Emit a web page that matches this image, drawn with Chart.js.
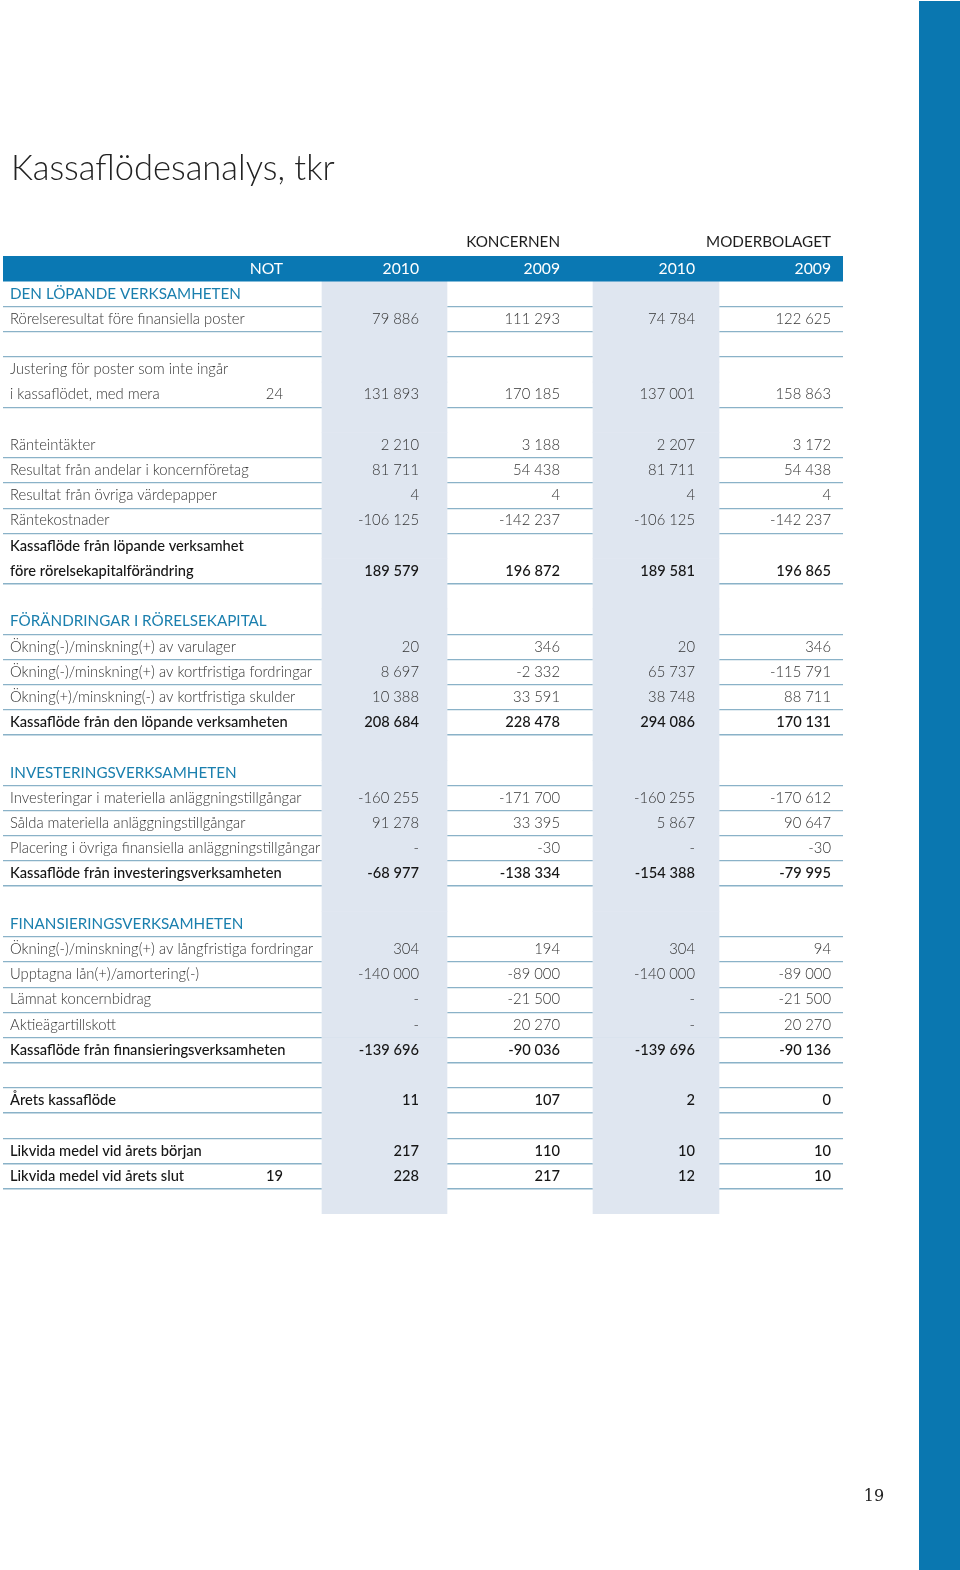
<!DOCTYPE html>
<html lang="sv">
<head>
<meta charset="utf-8">
<title>Kassaflödesanalys, tkr</title>
<script src="https://cdn.jsdelivr.net/npm/chart.js@4/dist/chart.umd.min.js"></script>
<style>
  html, body { margin: 0; padding: 0; background: #fff; }
  body { width: 960px; height: 1570px; position: relative; overflow: hidden; }
  #chartKassa { position: absolute; left: 0; top: 0; }
  #strip { position: absolute; left: 919px; top: 1px; width: 41px; bottom: 0; background: #0a77b0; }
</style>
</head>
<body>
<canvas id="chartKassa" width="960" height="1570"></canvas>
<div id="strip"></div>
<script>
// Rader i tabellen (rad 0 = rubrikraden, sista raden = tom rad under tabellen)
const rowLabels = [
  '',
  'DEN LÖPANDE VERKSAMHETEN',
  'Rörelseresultat före finansiella poster',
  '',
  'Justering för poster som inte ingår',
  'i kassaflödet, med mera',
  '',
  'Ränteintäkter',
  'Resultat från andelar i koncernföretag',
  'Resultat från övriga värdepapper',
  'Räntekostnader',
  'Kassaflöde från löpande verksamhet',
  'före rörelsekapitalförändring',
  '',
  'FÖRÄNDRINGAR I RÖRELSEKAPITAL',
  'Ökning(-)/minskning(+) av varulager',
  'Ökning(-)/minskning(+) av kortfristiga fordringar',
  'Ökning(+)/minskning(-) av kortfristiga skulder',
  'Kassaflöde från den löpande verksamheten',
  '',
  'INVESTERINGSVERKSAMHETEN',
  'Investeringar i materiella anläggningstillgångar',
  'Sålda materiella anläggningstillgångar',
  'Placering i övriga finansiella anläggningstillgångar',
  'Kassaflöde från investeringsverksamheten',
  '',
  'FINANSIERINGSVERKSAMHETEN',
  'Ökning(-)/minskning(+) av långfristiga fordringar',
  'Upptagna lån(+)/amortering(-)',
  'Lämnat koncernbidrag',
  'Aktieägartillskott',
  'Kassaflöde från finansieringsverksamheten',
  '',
  'Årets kassaflöde',
  '',
  'Likvida medel vid årets början',
  'Likvida medel vid årets slut',
  ''
];

// typ av rad: head, section, item, total, blank
const rowKind = [
  'head', 'section', 'item', 'blank', 'item', 'item', 'blank',
  'item', 'item', 'item', 'item', 'total', 'total', 'blank',
  'section', 'item', 'item', 'item', 'total', 'blank',
  'section', 'item', 'item', 'item', 'total', 'blank',
  'section', 'item', 'item', 'item', 'item', 'total', 'blank',
  'total', 'blank', 'total', 'total', 'blank'
];

const headerLabels = ['NOT', '2010', '2009', '2010', '2009'];
const groupLabels = ['KONCERNEN', 'MODERBOLAGET'];

const N = null;
const D = '-';
const notes = [N, N, N, N, N, 24, N, N, N, N, N, N, N, N, N, N, N, N, N, N, N, N, N, N, N, N, N, N, N, N, N, N, N, N, N, N, 19, N];

const koncernen2010 = [N, N, 79886, N, N, 131893, N, 2210, 81711, 4, -106125, N, 189579, N,
  N, 20, 8697, 10388, 208684, N, N, -160255, 91278, D, -68977, N,
  N, 304, -140000, D, D, -139696, N, 11, N, 217, 228, N];
const koncernen2009 = [N, N, 111293, N, N, 170185, N, 3188, 54438, 4, -142237, N, 196872, N,
  N, 346, -2332, 33591, 228478, N, N, -171700, 33395, -30, -138334, N,
  N, 194, -89000, -21500, 20270, -90036, N, 107, N, 110, 217, N];
const moderbolaget2010 = [N, N, 74784, N, N, 137001, N, 2207, 81711, 4, -106125, N, 189581, N,
  N, 20, 65737, 38748, 294086, N, N, -160255, 5867, D, -154388, N,
  N, 304, -140000, D, D, -139696, N, 2, N, 10, 12, N];
const moderbolaget2009 = [N, N, 122625, N, N, 158863, N, 3172, 54438, 4, -142237, N, 196865, N,
  N, 346, -115791, 88711, 170131, N, N, -170612, 90647, -30, -79995, N,
  N, 94, -89000, -21500, 20270, -90136, N, 0, N, 10, 10, N];

const valueColumns = [koncernen2010, koncernen2009, moderbolaget2010, moderbolaget2009];

// Layout (x i tabellens enheter, 0..840)
const TABLE_W = 840;
const LABEL_X = 7;
const NOTE_RIGHT = 280;
const VALUE_RIGHT = [416, 557, 692, 828];
const BAND_K = [319, 444];
const BAND_M = [590, 716];
const noRuleBelow = new Set([0, 4, 6, 11, 13, 19, 25, 37]);

const FONT = 'Lato, "Open Sans", sans-serif';
const BLUE = '#0a78b3';

function fmt(v) {
  if (v === D) return '-';
  const s = Math.abs(v).toString().replace(/\B(?=(\d{3})+(?!\d))/g, ' ');
  return (v < 0 ? '-' : '') + s;
}

// anpassa teckenstorlek efter en provtext
function fitSize(ctx, weight, sample, width) {
  ctx.font = weight + ' 20px ' + FONT;
  return 20 * width / ctx.measureText(sample).width;
}

const tableText = {
  id: 'tableText',
  afterDraw(chart) {
    const { ctx, chartArea } = chart;
    const x = chart.scales.x;
    const y = chart.scales.y;

    const sItem = fitSize(ctx, 300, 'Rörelseresultat före finansiella poster', 235);
    const sTotal = fitSize(ctx, 500, 'Kassaflöde från den löpande verksamheten', 278);
    const sSection = fitSize(ctx, 400, 'DEN LÖPANDE VERKSAMHETEN', 231);
    const sTitle = fitSize(ctx, 300, 'Kassaflödesanalys, tkr', 324);

    ctx.save();

    // titel
    ctx.textBaseline = 'alphabetic';
    ctx.textAlign = 'left';
    ctx.fillStyle = '#222';
    ctx.font = '300 ' + sTitle + 'px ' + FONT;
    ctx.fillText('Kassaflödesanalys, tkr', 11, 180);

    // gruppnamn över rubrikraden
    ctx.textBaseline = 'middle';
    ctx.textAlign = 'right';
    ctx.fillStyle = '#1e1e1e';
    ctx.font = '400 ' + sSection + 'px ' + FONT;
    ctx.fillText(groupLabels[0], x.getPixelForValue(VALUE_RIGHT[1]), chartArea.top - 14);
    ctx.fillText(groupLabels[1], x.getPixelForValue(VALUE_RIGHT[3]), chartArea.top - 14);

    // rubrikrad
    const hy = y.getPixelForValue(0);
    ctx.fillStyle = '#fff';
    ctx.font = '400 ' + (sSection + 0.5) + 'px ' + FONT;
    ctx.fillText(headerLabels[0], x.getPixelForValue(NOTE_RIGHT), hy);
    VALUE_RIGHT.forEach((r, j) => ctx.fillText(headerLabels[j + 1], x.getPixelForValue(r), hy));

    // rader
    rowLabels.forEach((label, i) => {
      const kind = rowKind[i];
      if (kind === 'head' || kind === 'blank') return;
      const py = y.getPixelForValue(i);
      let font, color;
      if (kind === 'section') { font = '400 ' + sSection + 'px ' + FONT; color = '#1a7fae'; }
      else if (kind === 'total') { font = '500 ' + sTotal + 'px ' + FONT; color = '#161616'; }
      else { font = '300 ' + sItem + 'px ' + FONT; color = '#333'; }
      ctx.font = font;
      ctx.fillStyle = color;
      ctx.textAlign = 'left';
      ctx.fillText(label, x.getPixelForValue(LABEL_X), py);
      ctx.textAlign = 'right';
      if (notes[i] !== null) ctx.fillText(String(notes[i]), x.getPixelForValue(NOTE_RIGHT), py);
      valueColumns.forEach((col, j) => {
        if (col[i] === null) return;
        ctx.fillText(fmt(col[i]), x.getPixelForValue(VALUE_RIGHT[j]), py);
      });
    });

    // sidnummer
    ctx.textBaseline = 'alphabetic';
    ctx.textAlign = 'center';
    ctx.fillStyle = '#222';
    ctx.font = '400 16px "DejaVu Serif", serif';
    ctx.fillText('19', 874, 1501);
    ctx.restore();
  }
};

function ruleBelow(row) {
  return row >= 0 && row < rowLabels.length && !noRuleBelow.has(row);
}

const ctx = document.getElementById('chartKassa').getContext('2d');
const myChart = new Chart(ctx, {
  type: 'bar',
  data: {
    labels: rowLabels.map((l, i) => String(i)),
    datasets: [
      {
        label: 'rubrik',
        data: rowKind.map(k => k === 'head' ? [0, TABLE_W] : null),
        backgroundColor: BLUE
      },
      {
        label: 'koncernen 2010',
        data: rowKind.map(k => k === 'head' ? null : BAND_K),
        backgroundColor: '#dfe6f0'
      },
      {
        label: 'moderbolaget 2010',
        data: rowKind.map(k => k === 'head' ? null : BAND_M),
        backgroundColor: '#dfe6f0'
      }
    ].map(ds => Object.assign(ds, {
      grouped: false,
      barPercentage: 1,
      categoryPercentage: 1,
      borderWidth: 0,
      borderSkipped: false
    }))
  },
  options: {
    indexAxis: 'y',
    responsive: false,
    animation: false,
    events: [],
    layout: { padding: { left: 3, top: 256, right: 117, bottom: 356 } },
    plugins: { legend: { display: false }, tooltip: { enabled: false } },
    scales: {
      x: { type: 'linear', min: 0, max: TABLE_W, display: false },
      y: {
        type: 'category',
        offset: true,
        z: 1,
        afterFit: s => { s.width = 0; },
        ticks: { display: false },
        border: { display: false },
        grid: {
          offset: true,
          drawTicks: false,
          color: c => ruleBelow(c.index - 1) ? '#8ab2c8' : 'rgba(0,0,0,0)',
          lineWidth: c => rowKind[c.index - 1] === 'total' ? 1.6 : 1.2
        }
      }
    }
  },
  plugins: [tableText]
});
</script>
</body>
</html>
